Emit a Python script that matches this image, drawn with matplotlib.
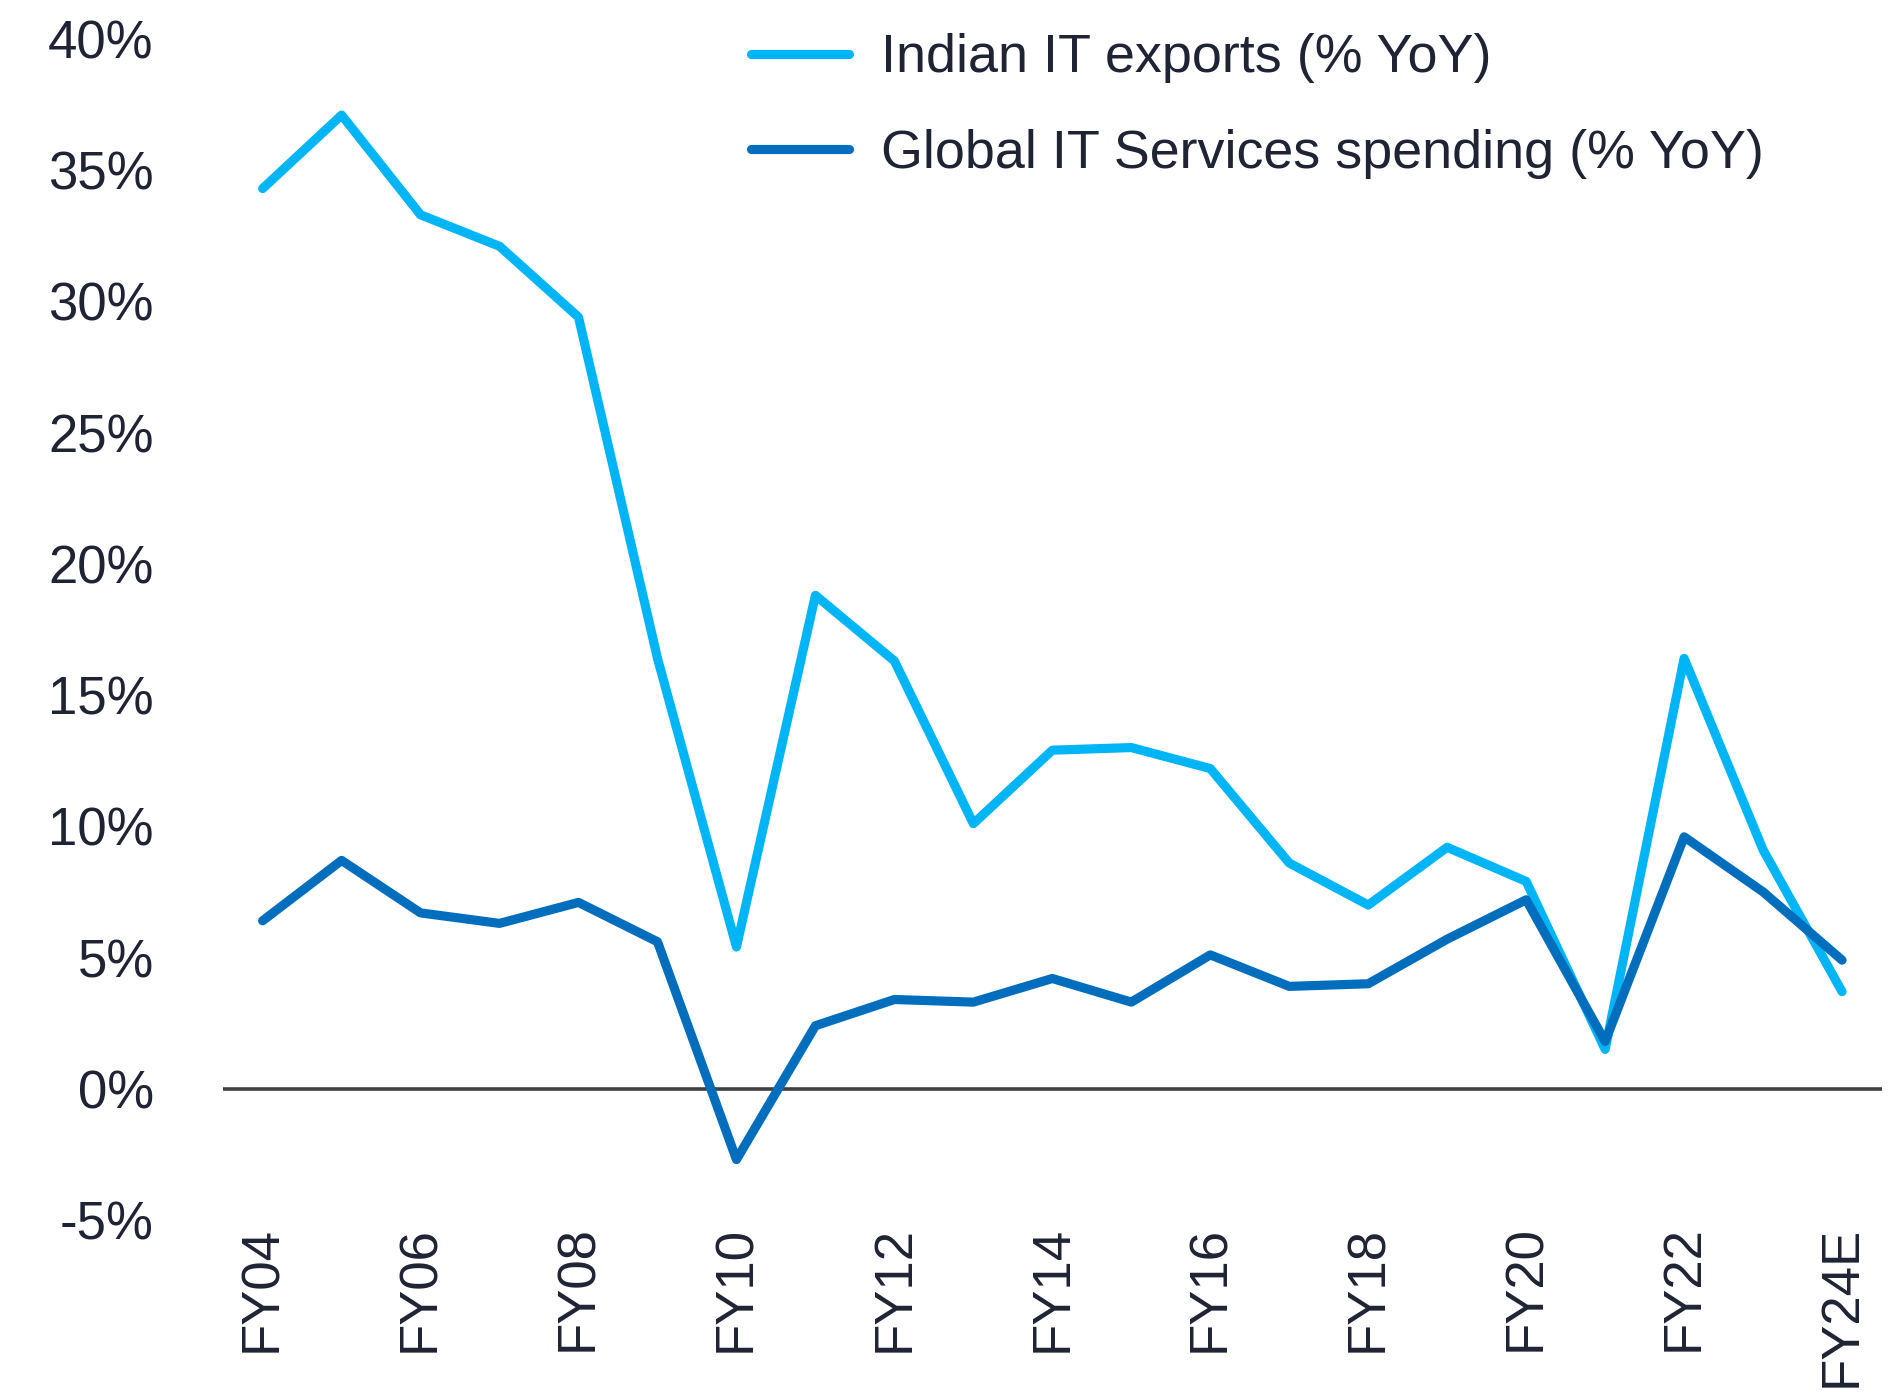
import matplotlib
matplotlib.use('Agg')
import matplotlib.pyplot as plt
import numpy as np

years = ['FY04', 'FY05', 'FY06', 'FY07', 'FY08', 'FY09', 'FY10', 'FY11', 'FY12', 'FY13',
         'FY14', 'FY15', 'FY16', 'FY17', 'FY18', 'FY19', 'FY20', 'FY21', 'FY22', 'FY23', 'FY24E']

indian_it_exports = [34.3, 37.1, 33.3, 32.1, 29.4, 16.4, 5.4, 18.8, 16.3, 10.1,
                     12.9, 13.0, 12.2, 8.6, 7.0, 9.2, 7.9, 1.5, 16.4, 9.1, 3.7]

global_it_services = [6.4, 8.7, 6.7, 6.3, 7.1, 5.6, -2.7, 2.4, 3.4, 3.3,
                      4.2, 3.3, 5.1, 3.9, 4.0, 5.7, 7.2, 1.8, 9.6, 7.5, 4.9]

yticks = [-5, 0, 5, 10, 15, 20, 25, 30, 35, 40]

text_col = '#1E2433'
light = '#00B5F5'
dark = '#006EBD'

plt.rcParams['font.family'] = ['Liberation Sans', 'DejaVu Sans']

fig = plt.figure(figsize=(18.91, 13.92), dpi=100)
ax = fig.add_axes([0.118, 0.1236, 0.877, 0.8484])

x = np.arange(len(years))
ax.axhline(0, color='#404040', lw=2.6, zorder=1)
ax.plot(x, indian_it_exports, color=light, lw=6.6, solid_joinstyle='round',
        solid_capstyle='round', label='Indian IT exports (% YoY)', zorder=3)
ax.plot(x, global_it_services, color=dark, lw=6.6, solid_joinstyle='round',
        solid_capstyle='round', label='Global IT Services spending (% YoY)', zorder=4)

ax.set_xlim(-0.5, 20.5)
ax.set_ylim(-5, 40)
ax.set_yticks(yticks)
ax.set_yticklabels([f'{v}%' for v in yticks])
ax.set_xticks(x[::2])
ax.set_xticklabels(years[::2], rotation=90, va='top', ha='center')

ax.tick_params(axis='y', length=0, pad=50, labelsize=38, labelcolor=text_col)
ax.tick_params(axis='x', length=0, pad=4, labelsize=38, labelcolor=text_col)
for s in ax.spines.values():
    s.set_visible(False)

leg = ax.legend(loc='upper left', bbox_to_anchor=(0.397, 0.976), bbox_transform=fig.transFigure,
                frameon=False, fontsize=38.8, handlelength=1.82, handletextpad=0.6,
                labelspacing=0.85, borderpad=0, borderaxespad=0)
for t in leg.get_texts():
    t.set_color(text_col)

fig.savefig('out.png', dpi=100)
